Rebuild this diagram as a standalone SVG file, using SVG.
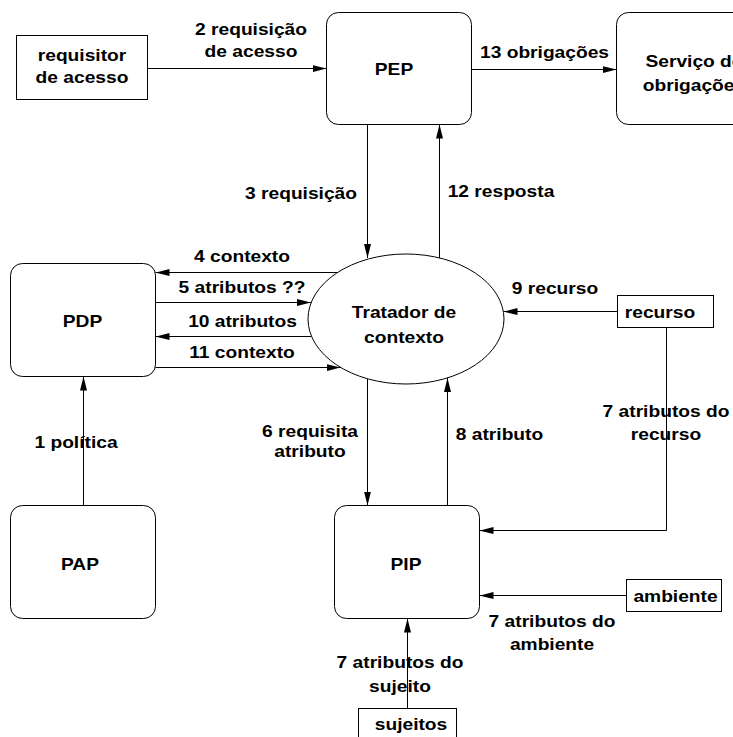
<svg xmlns="http://www.w3.org/2000/svg" width="733" height="737" viewBox="0 0 733 737">
  <style>
    .box { fill: #fff; stroke: #000; stroke-width: 1; }
    .line { fill: none; stroke: #000; stroke-width: 1; }
    text { font-family: "Liberation Sans", Arial, Helvetica, sans-serif; font-weight: bold; font-size: 16px; fill: #000; text-anchor: middle; }
  </style>
  <defs>
    <marker id="arrow" markerUnits="userSpaceOnUse" markerWidth="14" markerHeight="8" refX="14" refY="3.5" orient="auto">
      <path d="M0,0 L14,3.5 L0,7 z" fill="#000"/>
    </marker>
  </defs>

  <rect width="733" height="737" fill="#fff"/>

  <!-- nodes -->
  <g id="requisitor">
    <rect class="box" x="16.5" y="35.5" width="131" height="64"/>
    <text transform="translate(82,61) scale(1.2,1)">requisitor<tspan x="0" dy="22">de acesso</tspan></text>
  </g>
  <g id="pep">
    <rect class="box" x="326.5" y="12.5" width="145" height="112" rx="12"/>
    <text transform="translate(394,75) scale(1.2,1)">PEP</text>
  </g>
  <g id="servico-obrigacoes">
    <rect class="box" x="616.5" y="12.5" width="145" height="112" rx="12"/>
    <text transform="translate(694,67) scale(1.2,1)">Serviço de<tspan x="0" dy="24">obrigações</tspan></text>
  </g>
  <g id="pdp">
    <rect class="box" x="10.5" y="263.5" width="145" height="113" rx="12"/>
    <text transform="translate(82.5,327) scale(1.2,1)">PDP</text>
  </g>
  <g id="tratador">
    <ellipse class="box" cx="406" cy="319" rx="98" ry="65"/>
    <text transform="translate(404,318) scale(1.2,1)">Tratador de<tspan x="0" dy="25">contexto</tspan></text>
  </g>
  <g id="recurso">
    <rect class="box" x="617.5" y="295.5" width="96" height="32"/>
    <text transform="translate(660,318) scale(1.2,1)">recurso</text>
  </g>
  <g id="pap">
    <rect class="box" x="10.5" y="505.5" width="145" height="113" rx="12"/>
    <text transform="translate(80,570) scale(1.2,1)">PAP</text>
  </g>
  <g id="pip">
    <rect class="box" x="334.5" y="505.5" width="145" height="113" rx="12"/>
    <text transform="translate(406,570) scale(1.2,1)">PIP</text>
  </g>
  <g id="ambiente">
    <rect class="box" x="626.5" y="579.5" width="95" height="32"/>
    <text transform="translate(675.5,602) scale(1.2,1)">ambiente</text>
  </g>
  <g id="sujeitos">
    <rect class="box" x="358.5" y="708.5" width="98" height="32"/>
    <text transform="translate(411,730) scale(1.2,1)">sujeitos</text>
  </g>

  <!-- connectors with their labels -->
  <g id="connectors">
    <text transform="translate(251,35) scale(1.2,1)">2 requisição<tspan x="0" dy="22">de acesso</tspan></text>
    <text transform="translate(544.5,58) scale(1.2,1)">13 obrigações</text>
    <text transform="translate(301,199) scale(1.2,1)">3 requisição</text>
    <text transform="translate(501,197) scale(1.2,1)">12 resposta</text>
    <text transform="translate(242,262) scale(1.2,1)">4 contexto</text>
    <text transform="translate(242,293) scale(1.2,1)">5 atributos ??</text>
    <text transform="translate(242.5,327) scale(1.2,1)">10 atributos</text>
    <text transform="translate(242,358) scale(1.2,1)">11 contexto</text>
    <text transform="translate(555,294) scale(1.2,1)">9 recurso</text>
    <text transform="translate(76,448) scale(1.2,1)">1 política</text>
    <text transform="translate(310,437) scale(1.2,1)">6 requisita<tspan x="0" dy="20">atributo</tspan></text>
    <text transform="translate(499.5,440) scale(1.2,1)">8 atributo</text>
    <text transform="translate(666,417) scale(1.2,1)">7 atributos do<tspan x="0" dy="23">recurso</tspan></text>
    <text transform="translate(552,627) scale(1.2,1)">7 atributos do<tspan x="0" dy="23">ambiente</tspan></text>
    <text transform="translate(400,668) scale(1.2,1)">7 atributos do<tspan x="0" dy="24">sujeito</tspan></text>

    <path class="line" d="M147.5,68.5 H326.5" marker-end="url(#arrow)"/>
    <path class="line" d="M471.5,69.5 H616.5" marker-end="url(#arrow)"/>
    <path class="line" d="M367.5,124.5 V258" marker-end="url(#arrow)"/>
    <path class="line" d="M439.5,258 V124.5" marker-end="url(#arrow)"/>
    <path class="line" d="M337.5,272.5 H155.5" marker-end="url(#arrow)"/>
    <path class="line" d="M155.5,302.5 H311" marker-end="url(#arrow)"/>
    <path class="line" d="M311,336.5 H155.5" marker-end="url(#arrow)"/>
    <path class="line" d="M155.5,367.5 H340.5" marker-end="url(#arrow)"/>
    <path class="line" d="M83.5,505.5 V376.5" marker-end="url(#arrow)"/>
    <path class="line" d="M367.5,379 V505.5" marker-end="url(#arrow)"/>
    <path class="line" d="M447.5,505.5 V378" marker-end="url(#arrow)"/>
    <path class="line" d="M617.5,311.5 H503.5" marker-end="url(#arrow)"/>
    <path class="line" d="M666.5,327.5 V530.5 H479.5" marker-end="url(#arrow)"/>
    <path class="line" d="M626.5,595.5 H479.5" marker-end="url(#arrow)"/>
    <path class="line" d="M407.5,708.5 V618.5" marker-end="url(#arrow)"/>
  </g>
</svg>
